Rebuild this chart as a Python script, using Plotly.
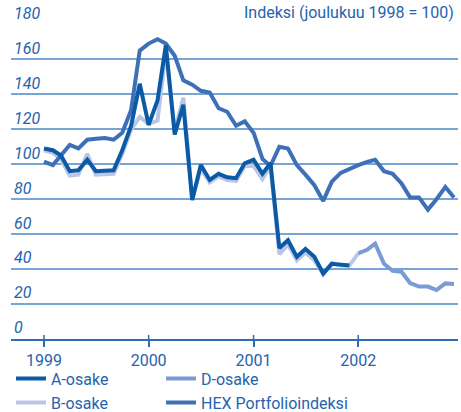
import pandas as pd
import plotly.graph_objects as go

months = pd.date_range("1999-01-01", "2002-12-01", freq="MS")

a_osake = [109, 108, 105, 96, 96.5, 102.5, 96, 96.5, 96.5, 108, 122, 146,
           122.5, 136.5, 168, 117, 134, 79.5, 99.5, 91, 94.5, 92.5, 92, 100.5,
           102.5, 94.5, 100.5, 52, 56.5, 47, 51.5, 47, 37.5, 43, 42.5, 42]
b_osake = [108, 106.5, 103, 93.5, 94, 106, 94, 94.5, 94.5, 106, 120, 127,
           123, 125, 165, 119, 138, 80, 97.5, 89.5, 93, 91, 90.5, 99,
           99, 91.5, 99, 48.5, 54, 45, 49.5, 45, 37, 43.5, 42, 42, 49]
d_osake = [49, 51, 54.5, 43, 39, 38.5, 32, 30, 30, 28, 31.8, 31.5]
hex_index = [101.5, 99.5, 105, 111, 109, 114, 114.5, 115, 114, 118, 131, 165,
             169, 171.5, 169, 162, 148, 145.5, 142, 141, 132, 130, 122, 124.5,
             118, 103, 99, 110, 109, 99.5, 94, 88, 79, 90, 95, 97.5,
             99.5, 101.3, 102.5, 96, 94.5, 89, 81, 81, 74, 80, 87, 81]

year_ticks = ["1999-01-01", "2000-01-01", "2001-01-01", "2002-01-01"]
year_labels = ["1999", "2000", "2001", "2002"]
y_ticks = list(range(0, 181, 20))

C_A = "#0b5aa6"
C_B = "#b9c6e6"
C_D = "#7a9bd3"
C_HEX = "#3e70b8"
C_TXT = "#2563ad"
C_GRID = "#79a5d6"
C_AXIS = "#2d6bb3"
FONT = "Roboto"

fig = go.Figure()
fig.add_trace(go.Scatter(x=months[:len(b_osake)], y=b_osake, mode="lines", name="B-osake",
                         line=dict(color=C_B, width=4), legend="legend", legendrank=2))
fig.add_trace(go.Scatter(x=months[36:36 + len(d_osake)], y=d_osake, mode="lines", name="D-osake",
                         line=dict(color=C_D, width=4), legend="legend2", legendrank=1))
fig.add_trace(go.Scatter(x=months[:len(hex_index)], y=hex_index, mode="lines",
                         name="HEX Portfolioindeksi", line=dict(color=C_HEX, width=4),
                         legend="legend2", legendrank=2))
fig.add_trace(go.Scatter(x=months[:len(a_osake)], y=a_osake, mode="lines", name="A-osake",
                         line=dict(color=C_A, width=4), legend="legend", legendrank=1))

# upper part of the year ticks (crossing the axis line)
for t in year_ticks:
    fig.add_shape(type="line", xref="x", yref="paper", x0=t, x1=t, y0=0, y1=0.013,
                  line=dict(color=C_AXIS, width=1.5))

fig.add_annotation(text="Indeksi (joulukuu 1998 = 100)", xref="paper", yref="paper",
                   x=0.995, y=1, xanchor="right", yanchor="bottom", showarrow=False,
                   font=dict(family=FONT, size=16, color=C_TXT))

legend_style = dict(orientation="v", yanchor="top", xanchor="left", y=-0.072,
                    font=dict(family=FONT, size=16, color=C_TXT),
                    traceorder="normal", bgcolor="rgba(0,0,0,0)", tracegroupgap=0)

fig.update_layout(
    width=461, height=412,
    margin=dict(l=11, r=3, t=24, b=73, autoexpand=False),
    paper_bgcolor="white", plot_bgcolor="white",
    font=dict(family=FONT, size=16, color=C_TXT),
    showlegend=True,
    legend=dict(x=0, **legend_style),
    legend2=dict(x=0.3356, **legend_style),
)
fig.update_xaxes(
    range=["1998-09-08", "2002-12-15"],
    tickvals=year_ticks, ticktext=year_labels,
    ticks="outside", ticklen=6, tickwidth=1.5, tickcolor=C_AXIS,
    showline=True, linecolor=C_AXIS, linewidth=1.5,
    showgrid=False, zeroline=False,
    tickfont=dict(family=FONT, size=16, color=C_TXT),
)
fig.update_yaxes(
    range=[0, 180.2], tickvals=y_ticks,
    ticklabelposition="inside top", ticks="", ticklabeloverflow="allow",
    showgrid=True, gridcolor=C_GRID, gridwidth=1.5,
    showline=False, zeroline=False,
    tickfont=dict(family=FONT, size=16, color=C_TXT, style="italic"),
)

fig.write_html("out.html", config={"displayModeBar": False},
               post_script="document.body.style.margin='0';document.body.style.overflow='hidden';")
